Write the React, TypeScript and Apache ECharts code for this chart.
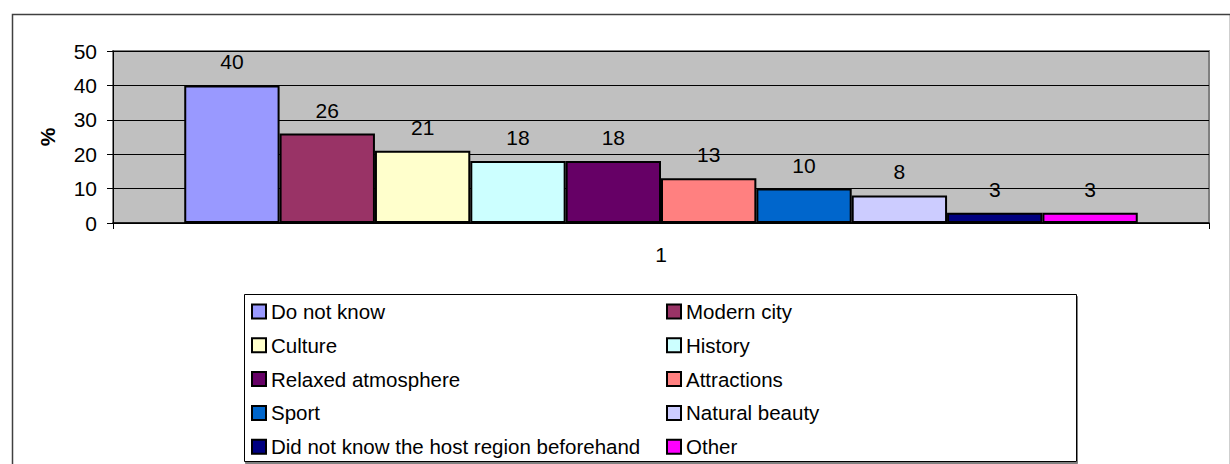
import React, { useEffect, useRef } from "react";
import * as echarts from "echarts";

const categories = ["1"];
const seriesNames = [
  "Do not know",
  "Modern city",
  "Culture",
  "History",
  "Relaxed atmosphere",
  "Attractions",
  "Sport",
  "Natural beauty",
  "Did not know the host region beforehand",
  "Other",
];
const seriesValues = [40, 26, 21, 18, 18, 13, 10, 8, 3, 3];
const seriesColors = [
  "#9999FF",
  "#993366",
  "#FFFFCC",
  "#CCFFFF",
  "#660066",
  "#FF8080",
  "#0066CC",
  "#CCCCFF",
  "#000080",
  "#FF00FF",
];
const yTicks = { min: 0, max: 50, interval: 10 };
const yAxisTitle = "%";

const FONT = "'Liberation Sans', Arial, sans-serif";
const FS = 21;
const LEGEND_FS = 20.5;

export default function App() {
  const ref = useRef<HTMLDivElement>(null);
  useEffect(() => {
    if (!ref.current) return;
    const chart = echarts.init(ref.current, undefined, { renderer: "svg" });
    const leftNames = seriesNames.filter((_, i) => i % 2 === 0);
    const rightNames = seriesNames.filter((_, i) => i % 2 === 1);
    const legendCommon = {
      orient: "vertical" as const,
      top: 301,
      itemWidth: 14,
      itemHeight: 14,
      itemGap: 12.8,
      icon: "rect",
      selectedMode: false,
      textStyle: { fontFamily: FONT, fontSize: LEGEND_FS, color: "#000", padding: [0, 0, 0, 0] },
      padding: 0,
    };
    chart.setOption({
      animation: false,
      backgroundColor: "#fff",
      textStyle: { fontFamily: FONT },
      grid: {
        left: 113,
        top: 51,
        width: 1096,
        height: 172,
        show: true,
        backgroundColor: "#C0C0C0",
        borderColor: "#808080",
        borderWidth: 2,
        containLabel: false,
      },
      legend: [
        { ...legendCommon, left: 251, data: leftNames },
        { ...legendCommon, left: 666, data: rightNames },
      ],
      xAxis: {
        type: "category",
        data: categories,
        axisLine: { show: true, lineStyle: { color: "#000", width: 1.5 } },
        axisTick: { show: true, length: 6, lineStyle: { color: "#000" } },
        axisLabel: { color: "#000", fontSize: FS, fontFamily: FONT, margin: 21 },
      },
      yAxis: {
        type: "value",
        min: yTicks.min,
        max: yTicks.max,
        interval: yTicks.interval,
        axisLine: { show: true, lineStyle: { color: "#000", width: 1 } },
        axisTick: { show: true, length: 6, lineStyle: { color: "#000" } },
        axisLabel: { color: "#000", fontSize: FS, fontFamily: FONT, margin: 16 },
        splitLine: { show: true, lineStyle: { color: "#000", width: 1 } },
      },
      graphic: [
        {
          type: "rect",
          left: 10,
          top: 12,
          shape: { x: 0, y: 0, width: 1218, height: 470 },
          style: { fill: "none", stroke: "#404040", lineWidth: 1.5 },
          z: -1,
        },
        {
          type: "rect",
          shape: { x: 244.5, y: 294.5, width: 832, height: 167 },
          style: { fill: "#fff", stroke: "#000", lineWidth: 1, shadowColor: "#808080", shadowOffsetX: 1, shadowOffsetY: 2 },
          z: -1,
        },
        {
          type: "text",
          x: 47,
          y: 137,
          rotation: Math.PI / 2,
          style: {
            text: yAxisTitle,
            font: `bold ${FS}px ${FONT}`,
            fill: "#000",
            align: "center",
            verticalAlign: "middle",
          },
        },
      ],
      series: seriesNames.map((name, i) => ({
        type: "bar",
        name,
        data: [seriesValues[i]],
        barGap: "0%",
        barCategoryGap: "13%",
        itemStyle: { color: seriesColors[i], borderColor: "#000", borderWidth: 2 },
        label: {
          show: true,
          position: "top",
          distance: 13,
          color: "#000",
          fontSize: FS,
          fontFamily: FONT,
        },
      })),
    });
    return () => chart.dispose();
  }, []);
  return (
    <div
      ref={ref}
      style={{ position: "fixed", left: 0, top: 0, width: 1230, height: 464 }}
    />
  );
}
